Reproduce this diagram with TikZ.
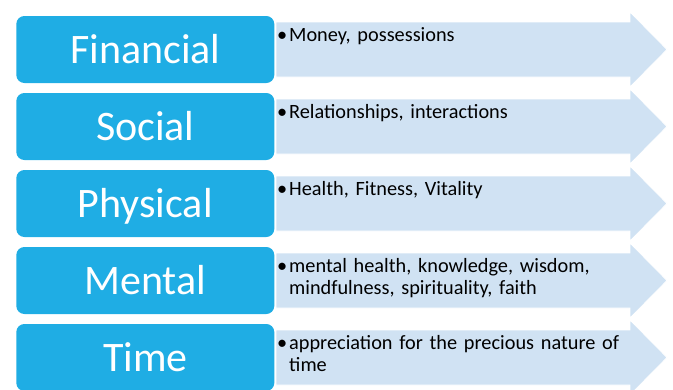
\documentclass[tikz,border=0pt]{standalone}
\usepackage{fontspec}
\setmainfont{Carlito}
\definecolor{catblue}{RGB}{31,173,228}
\definecolor{notefill}{RGB}{208,226,243}
\tikzset{
  catbox/.style={draw=none, fill=catblue, rounded corners=8pt, minimum width=258pt,
    minimum height=67pt, inner sep=0pt, text=white, font=\fontsize{42}{46}\selectfont,
    text height=30pt, text depth=3pt},
  notearrow/.style={fill=notefill, draw=white, line width=0.8pt},
  notetext/.style={anchor=base west, inner sep=0pt, text width=360pt, align=left,
    font=\fontsize{20.3}{22.5}\selectfont}
}
% bullet hung in the left margin of the text
\newcommand{\bul}{\llap{\textbullet\hspace{2pt}}}
\begin{document}
\begin{tikzpicture}[x=1pt, y=-1pt]
\useasboundingbox (0,0) rectangle (673,389);
\foreach \c [count=\i] in {49.5,126.5,203.5,280.5,357.5}{
  \fill[notearrow] (276,\c-27.5) -- (630,\c-27.5) -- (630,\c-37.5) -- (667,\c)
    -- (630,\c+37.5) -- (630,\c+27.5) -- (276,\c+27.5) -- cycle;
}
\node[catbox] (fin) at (145.3,49.5) {Financial};
\node[catbox] (soc) at (145.3,126.5) {Social};
\node[catbox] (phy) at (145.3,203.5) {Physical};
\node[catbox] (men) at (145.3,280.5) {Mental};
\node[catbox] (tim) at (145.3,357.5) {Time};
\node[notetext] (finT) at (289,41) {\bul Money, possessions};
\node[notetext] (socT) at (289,118) {\bul Relationships, interactions};
\node[notetext] (phyT) at (289,195) {\bul Health, Fitness, Vitality};
\node[notetext] (menT) at (289,272) {\bul mental health, knowledge, wisdom,\\ mindfulness, spirituality, faith};
\node[notetext] (timT) at (289,349) {\bul appreciation for the precious nature of\\ time};
\end{tikzpicture}
\end{document}
